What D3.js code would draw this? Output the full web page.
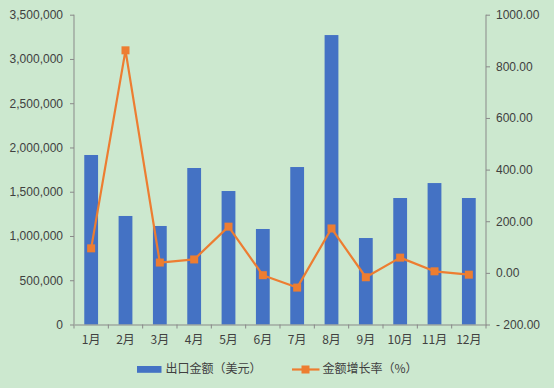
<!DOCTYPE html>
<html><head><meta charset="utf-8">
<script src="https://cdn.jsdelivr.net/npm/d3@7"></script>
<style>
html,body{margin:0;padding:0;background:#CCE8CF;}
svg{display:block;}
text{font-family:"Liberation Sans","Noto Sans CJK SC",Arial,sans-serif;fill:#404040;font-size:12px;}
.cjk{font-family:"Noto Sans CJK SC","Liberation Sans",sans-serif;}
</style></head>
<body>
<script>
const categories = ["1月","2月","3月","4月","5月","6月","7月","8月","9月","10月","11月","12月"];
const exportValues = [1915000,1226000,1113000,1768000,1508000,1079000,1779000,3270000,977000,1429000,1598000,1429000];
const growthRates = [95,862,40,52,179,-9,-57,172,-17,59,6,-7];
const leftTicks = [0,500000,1000000,1500000,2000000,2500000,3000000,3500000];
const rightTicks = [-200,0,200,400,600,800,1000];
const seriesNames = ["出口金额（美元）","金额增长率（%）"];

const W=554,H=388;
const m={left:74,right:486,top:14.7,bottom:324.5};
const svg=d3.select("body").append("svg").attr("width",W).attr("height",H);
svg.append("rect").attr("width",W).attr("height",H).attr("fill","#CCE8CF");

const x=d3.scaleBand().domain(categories).range([m.left,m.right]).paddingInner(0.6).paddingOuter(0.3);
const xb=d3.scaleBand().domain(categories).range([m.left,m.right]);
const yL=d3.scaleLinear().domain([0,3500000]).range([m.bottom,m.top]);
const yR=d3.scaleLinear().domain([-200,1000]).range([m.bottom,m.top]);
const axisColor="#898989";

// bars
svg.append("g").selectAll("rect").data(exportValues).join("rect")
  .attr("x",(d,i)=>xb(categories[i])+xb.bandwidth()/2-6.9)
  .attr("width",13.8)
  .attr("y",d=>yL(d)).attr("height",d=>yL(0)-yL(d))
  .attr("fill","#4472C4");

// left axis
const gl=svg.append("g").attr("transform",`translate(${m.left},0)`)
  .call(d3.axisLeft(yL).tickValues(leftTicks).tickSize(4).tickPadding(7).tickFormat(d3.format(",")));
// right axis
const gr=svg.append("g").attr("transform",`translate(${m.right},0)`)
  .call(d3.axisRight(yR).tickValues(rightTicks).tickSize(4).tickPadding(6).tickFormat(d=>d<0?"-"+d3.format(".2f")(-d).replace(/^/," ").replace(/^ /,"").replace(/^/,"") : d3.format(".2f")(d)));
gr.selectAll(".tick text").text(d=>d<0?"- "+d3.format(".2f")(-d):d3.format(".2f")(d));
// bottom axis
const gb=svg.append("g").attr("transform",`translate(0,${m.bottom})`)
  .call(d3.axisBottom(xb).tickSize(0).tickPadding(11));
gb.selectAll(".tick text").attr("class","cjk").style("font-size","12px");
// x boundary ticks
svg.append("g").selectAll("line").data(d3.range(categories.length+1)).join("line")
  .attr("x1",i=>m.left+i*xb.step()).attr("x2",i=>m.left+i*xb.step())
  .attr("y1",m.bottom).attr("y2",m.bottom+4).attr("stroke",axisColor);

[gl,gr,gb].forEach(g=>{
  g.select(".domain").attr("stroke",axisColor).attr("stroke-width",1);
  g.selectAll(".tick line").attr("stroke",axisColor);
  g.selectAll(".tick text").style("fill","#404040").style("font-size","12px");
});
gl.selectAll(".tick text").style("font-family","Liberation Sans, Arial, sans-serif");
gr.selectAll(".tick text").style("font-family","Liberation Sans, Arial, sans-serif");
gl.select(".domain").attr("d",`M0,${m.bottom}V${m.top}`);
gr.select(".domain").attr("d",`M0,${m.bottom}V${m.top}`);

// line
const cx=(i)=>xb(categories[i])+xb.bandwidth()/2;
const line=d3.line().x((d,i)=>cx(i)).y(d=>yR(d));
svg.append("path").datum(growthRates).attr("d",line).attr("fill","none")
  .attr("stroke","#ED7D31").attr("stroke-width",2.2).attr("stroke-linejoin","round");
svg.append("g").selectAll("rect").data(growthRates).join("rect")
  .attr("x",(d,i)=>cx(i)-4).attr("y",d=>yR(d)-4).attr("width",8).attr("height",8)
  .attr("fill","#ED7D31");

// legend
const lg=svg.append("g");
lg.append("rect").attr("x",137).attr("y",366).attr("width",24.5).attr("height",6.8).attr("fill","#4472C4");
lg.append("text").attr("class","cjk").attr("x",165.5).attr("y",369).attr("dy","0.35em").text(seriesNames[0]);
lg.append("line").attr("x1",292).attr("x2",319.5).attr("y1",369.5).attr("y2",369.5).attr("stroke","#ED7D31").attr("stroke-width",2.2);
lg.append("rect").attr("x",301.5).attr("y",365.5).attr("width",8).attr("height",8).attr("fill","#ED7D31");
lg.append("text").attr("class","cjk").attr("x",322.5).attr("y",369).attr("dy","0.35em").text(seriesNames[1]);
</script>
</body></html>
